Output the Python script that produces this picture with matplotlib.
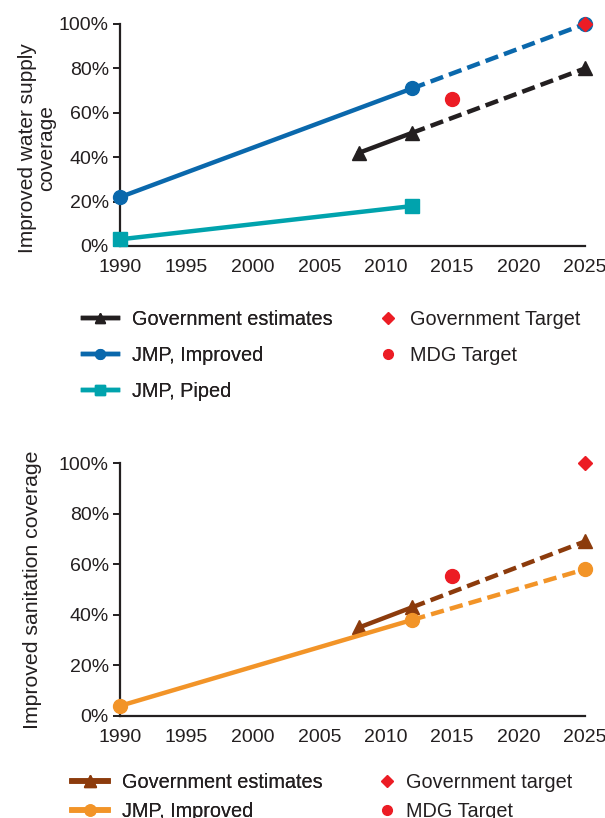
import matplotlib.pyplot as plt
from matplotlib.lines import Line2D

plt.rcParams['font.family'] = ['Liberation Sans', 'DejaVu Sans']
plt.rcParams['font.size'] = 14

# 数据 —— 上图：供水覆盖率
water_gov_years = [2008, 2012]
water_gov = [42, 51]
water_gov_proj_years = [2012, 2025]
water_gov_proj = [51, 80]
water_jmp_years = [1990, 2012]
water_jmp = [22, 71]
water_jmp_proj_years = [2012, 2025]
water_jmp_proj = [71, 100]
water_piped_years = [1990, 2012]
water_piped = [3, 18]
water_mdg_year = [2015]
water_mdg = [66]
water_target_year = [2025]
water_target = [100]

# 数据 —— 下图：卫生设施覆盖率
san_gov_years = [2008, 2012]
san_gov = [35, 43]
san_gov_proj_years = [2012, 2025]
san_gov_proj = [43, 69]
san_jmp_years = [1990, 2012]
san_jmp = [4, 38]
san_jmp_proj_years = [2012, 2025]
san_jmp_proj = [38, 58]
san_mdg_year = [2015]
san_mdg = [55.5]
san_target_year = [2025]
san_target = [100]

x_ticks = [1990, 1995, 2000, 2005, 2010, 2015, 2020, 2025]
y_ticks = [0, 20, 40, 60, 80, 100]
y_tick_labels = ['0%', '20%', '40%', '60%', '80%', '100%']

DARK = '#231F20'
BLACK = '#231F20'
BLUE = '#0A68AC'
TEAL = '#00A3AD'
RED = '#EC1C24'
BROWN = '#8C3B0C'
ORANGE = '#F29428'
LW = 3.2
DASH = (3, 1.4)


def style_axis(ax):
    ax.set_xlim(1990, 2025)
    ax.set_ylim(0, 100)
    ax.set_xticks(x_ticks)
    ax.set_yticks(y_ticks)
    ax.set_yticklabels(y_tick_labels)
    for s in ['top', 'right']:
        ax.spines[s].set_visible(False)
    for s in ['left', 'bottom']:
        ax.spines[s].set_linewidth(1.6)
        ax.spines[s].set_color(DARK)
    ax.tick_params(axis='y', length=5, width=1.4, color=DARK, labelcolor=DARK, pad=3)
    ax.tick_params(axis='x', length=0, pad=9, labelcolor=DARK)


fig = plt.figure(figsize=(6.05, 8.18), dpi=100)

# 上图
ax1 = fig.add_axes([120 / 605, 1 - 246 / 818, 465 / 605, 222 / 818])
style_axis(ax1)
ax1.plot(water_piped_years, water_piped, color=TEAL, lw=LW, marker='s', ms=10, clip_on=False, zorder=3)
ax1.plot(water_jmp_years, water_jmp, color=BLUE, lw=LW, marker='o', ms=10, clip_on=False, zorder=3)
ax1.plot(water_jmp_proj_years, water_jmp_proj, color=BLUE, lw=LW, dashes=DASH, marker='o', ms=10,
         markevery=[1], clip_on=False, zorder=3)
ax1.plot(water_gov_years, water_gov, color=BLACK, lw=LW, marker='^', ms=10, clip_on=False, zorder=4)
ax1.plot(water_gov_proj_years, water_gov_proj, color=BLACK, lw=LW, dashes=DASH, marker='^', ms=10,
         markevery=[1], clip_on=False, zorder=4)
ax1.plot(water_mdg_year, water_mdg, ls='none', marker='o', ms=10, color=RED, clip_on=False, zorder=5)
ax1.plot(water_target_year, water_target, ls='none', marker='D', ms=7.5, color=RED, clip_on=False, zorder=6)
ax1.set_ylabel('Improved water supply\ncoverage', color=DARK, linespacing=1.0, fontsize=15)
ax1.yaxis.set_label_coords(-0.138, 0.44)

# 上图图例
h1 = [Line2D([], [], color=BLACK, lw=LW, marker='^', ms=7),
      Line2D([], [], color=BLUE, lw=LW, marker='o', ms=7),
      Line2D([], [], color=TEAL, lw=LW, marker='s', ms=7)]
leg1 = fig.legend(h1, ['Government estimates', 'JMP, Improved', 'JMP, Piped'],
                  loc='upper left', bbox_to_anchor=(83 / 605, 1 - 310 / 818), frameon=False,
                  borderpad=0, borderaxespad=0, handlelength=1.75, handletextpad=0.72,
                  labelspacing=0.86, labelcolor=DARK, fontsize=14.3)
h2 = [Line2D([], [], ls='none', color=RED, marker='D', ms=6),
      Line2D([], [], ls='none', color=RED, marker='o', ms=7)]
fig.legend(h2, ['Government Target', 'MDG Target'],
           loc='upper left', bbox_to_anchor=(380 / 605, 1 - 310 / 818), frameon=False,
           borderpad=0, borderaxespad=0, handlelength=0.8, handletextpad=0.7,
           labelspacing=0.86, labelcolor=DARK, fontsize=14.3)
fig.add_artist(leg1)

# 下图
ax2 = fig.add_axes([120 / 605, 1 - 716 / 818, 465 / 605, 253 / 818])
style_axis(ax2)
ax2.plot(san_gov_years, san_gov, color=BROWN, lw=LW, marker='^', ms=10, clip_on=False, zorder=3)
ax2.plot(san_gov_proj_years, san_gov_proj, color=BROWN, lw=LW, dashes=DASH, marker='^', ms=10,
         markevery=[1], clip_on=False, zorder=3)
ax2.plot(san_jmp_years, san_jmp, color=ORANGE, lw=LW, marker='o', ms=10, clip_on=False, zorder=4)
ax2.plot(san_jmp_proj_years, san_jmp_proj, color=ORANGE, lw=LW, dashes=DASH, marker='o', ms=10,
         markevery=[1], clip_on=False, zorder=4)
ax2.plot(san_mdg_year, san_mdg, ls='none', marker='o', ms=10, color=RED, clip_on=False, zorder=5)
ax2.plot(san_target_year, san_target, ls='none', marker='D', ms=7.5, color=RED, clip_on=False, zorder=6)
ax2.set_ylabel('Improved sanitation coverage', color=DARK, fontsize=15.3)
ax2.yaxis.set_label_coords(-0.168, 0.5)

# 下图图例
h3 = [Line2D([], [], color=BROWN, lw=4, marker='^', ms=8),
      Line2D([], [], color=ORANGE, lw=4, marker='o', ms=8)]
leg3 = fig.legend(h3, ['Government estimates', 'JMP, Improved'],
                  loc='upper left', bbox_to_anchor=(72 / 605, 1 - 773 / 818), frameon=False,
                  borderpad=0, borderaxespad=0, handlelength=1.8, handletextpad=0.72,
                  labelspacing=0.5, labelcolor=DARK, fontsize=14.3)
h4 = [Line2D([], [], ls='none', color=RED, marker='D', ms=6),
      Line2D([], [], ls='none', color=RED, marker='o', ms=7)]
fig.legend(h4, ['Government target', 'MDG Target'],
           loc='upper left', bbox_to_anchor=(379 / 605, 1 - 773 / 818), frameon=False,
           borderpad=0, borderaxespad=0, handlelength=0.8, handletextpad=0.55,
           labelspacing=0.5, labelcolor=DARK, fontsize=14.3)
fig.add_artist(leg3)

fig.savefig('out.png', dpi=100)
